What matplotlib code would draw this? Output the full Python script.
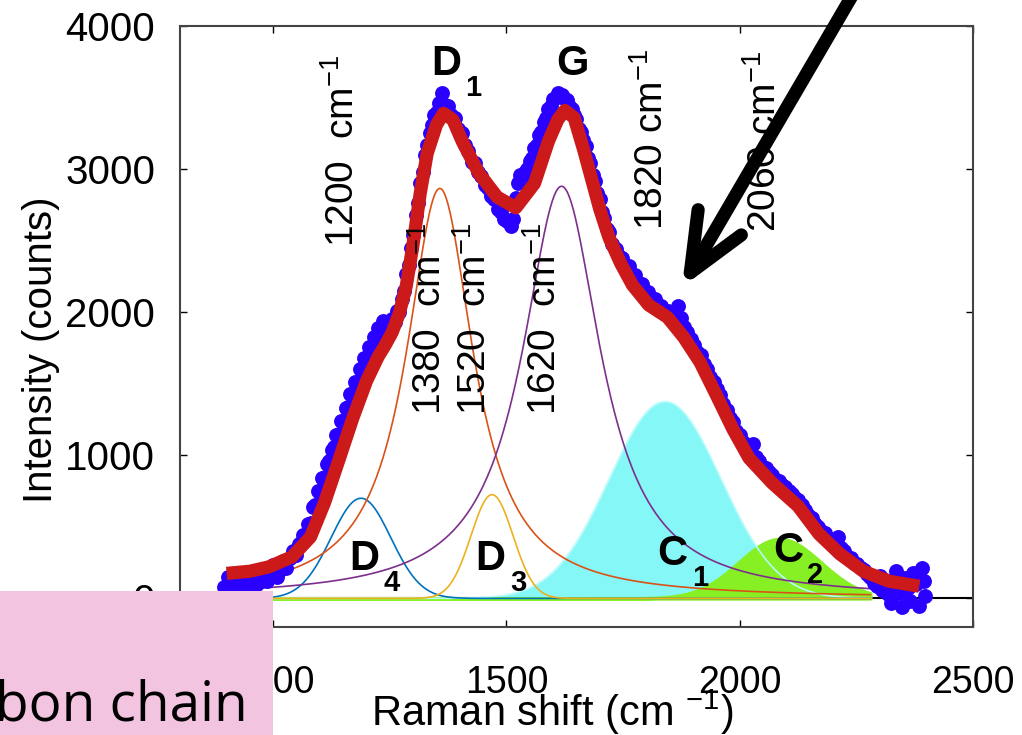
import numpy as np
import matplotlib.pyplot as plt

plt.rcParams['font.family'] = ['Liberation Sans', 'DejaVu Sans']
plt.rcParams['mathtext.fontset'] = 'custom'
plt.rcParams['mathtext.rm'] = 'Liberation Sans'
plt.rcParams['mathtext.it'] = 'Liberation Sans:italic'
plt.rcParams['mathtext.bf'] = 'Liberation Sans:bold'

meas_x = [895, 902, 909, 916, 923, 930, 937, 944, 951, 958, 965, 972, 979, 986, 993,
          1000, 1007, 1014, 1021, 1028, 1035, 1042, 1049, 1056, 1063, 1070, 1075, 1080,
          1085, 1090, 1095, 1100, 1105, 1110, 1115, 1120, 1125, 1130, 1135, 1140, 1145,
          1150, 1155, 1160, 1165, 1170, 1175, 1180, 1185, 1190, 1195, 1200, 1205, 1210,
          1215, 1220, 1225, 1230, 1235, 1240, 1245, 1250, 1255, 1260, 1265, 1270, 1275,
          1280, 1285, 1290, 1295, 1300, 1305, 1310, 1315, 1320, 1325, 1330, 1335, 1340,
          1345, 1350, 1355, 1362, 1368, 1375, 1382, 1390, 1397, 1404, 1411, 1418, 1425,
          1432, 1439, 1446, 1453, 1460, 1467, 1474, 1481, 1488, 1495, 1502, 1509, 1515,
          1520, 1525, 1530, 1535, 1540, 1545, 1550, 1555, 1560, 1565, 1570, 1575, 1580,
          1585, 1590, 1595, 1600, 1605, 1610, 1615, 1620, 1625, 1630, 1635, 1640, 1645,
          1650, 1655, 1660, 1665, 1670, 1675, 1680, 1685, 1690, 1695, 1700, 1705, 1710,
          1715, 1720, 1727, 1734, 1741, 1748, 1755, 1762, 1769, 1776, 1783, 1790, 1797,
          1804, 1811, 1818, 1825, 1832, 1839, 1846, 1853, 1860, 1867, 1874, 1881, 1888,
          1895, 1902, 1909, 1916, 1923, 1930, 1937, 1944, 1951, 1958, 1965, 1972, 1979,
          1986, 1993, 2000, 2007, 2014, 2021, 2028, 2035, 2042, 2049, 2056, 2063, 2070,
          2077, 2084, 2091, 2098, 2105, 2112, 2119, 2126, 2133, 2140, 2147, 2154, 2161,
          2168, 2175, 2182, 2189, 2196, 2203, 2210, 2217, 2224, 2231, 2238, 2245, 2252,
          2259, 2266, 2273, 2280, 2287, 2294, 2300, 2306, 2312, 2318, 2324, 2330, 2336,
          2342, 2348, 2354, 2360, 2366, 2372, 2378, 2384, 2390, 2395, 2398]
meas_y = [80, 150, 60, 120, 170, 90, 140, 60, 130, 180, 100, 150, 200, 120, 170,
          230, 150, 200, 260, 210, 280, 330, 300, 380, 440, 430, 520, 530,
          640, 650, 750, 740, 840, 850, 940, 960, 1040, 1060, 1140, 1150, 1240,
          1240, 1330, 1340, 1430, 1420, 1510, 1510, 1600, 1600, 1680, 1680, 1760, 1760,
          1830, 1820, 1890, 1860, 1940, 1840, 1900, 1860, 1950, 1930, 2010, 2000, 2090,
          2150, 2270, 2330, 2450, 2540, 2680, 2760, 2900, 2980, 3100, 3170, 3250, 3310,
          3380, 3400, 3460, 3530, 3450, 3440, 3380, 3360, 3280, 3250, 3170, 3130, 3050,
          3040, 2980, 2950, 2890, 2870, 2810, 2790, 2720, 2700, 2650, 2640, 2600, 2650,
          2800, 2900, 2960, 2930, 2980, 3000, 3060, 3080, 3150, 3170, 3240, 3260, 3330,
          3360, 3420, 3440, 3490, 3500, 3530, 3510, 3520, 3490, 3480, 3440, 3420, 3380,
          3350, 3280, 3260, 3200, 3160, 3080, 3040, 2960, 2920, 2830, 2790, 2700, 2660,
          2580, 2560, 2480, 2440, 2390, 2380, 2320, 2320, 2250, 2260, 2200, 2200, 2150,
          2140, 2090, 2090, 2050, 2040, 2010, 2010, 1970, 1990, 2040, 1960, 1900, 1860,
          1810, 1770, 1720, 1700, 1640, 1600, 1550, 1510, 1460, 1420, 1360, 1320, 1260,
          1230, 1170, 1140, 1090, 1060, 1030, 1080, 990, 960, 920, 910, 880, 860,
          830, 820, 790, 780, 750, 730, 700, 690, 650, 620, 580, 560, 520,
          500, 470, 460, 420, 410, 390, 430, 350, 330, 290, 280, 250, 240,
          210, 200, 170, 150, 110, 90, 160, 60, 130, 30, -30, 110, 190,
          40, -60, 140, 70, -20, 180, 100, -50, 210, 120, 20]

# total fit (red line)
fit_x = [900, 950, 990, 1040, 1080, 1110, 1140, 1170, 1200, 1225, 1240, 1255, 1270,
         1285, 1300, 1315, 1330, 1350, 1365, 1385, 1405, 1440, 1480, 1520, 1560, 1590,
         1610, 1625, 1645, 1665, 1685, 1700, 1720, 1745, 1770, 1805, 1845, 1880, 1915,
         1950, 1985, 2020, 2070, 2125, 2170, 2215, 2265, 2320, 2385]
fit_y = [175, 190, 220, 290, 430, 670, 960, 1255, 1520, 1690, 1770, 1860, 1990,
         2180, 2480, 2830, 3110, 3310, 3390, 3345, 3195, 2975, 2805, 2730, 2900, 3195,
         3345, 3410, 3360, 3140, 2900, 2720, 2520, 2340, 2190, 2050, 1965, 1825, 1650,
         1420, 1185, 980, 805, 645, 450, 310, 190, 120, 85]

# fitted bands: centre, height, width (sigma for gaussian, hwhm for lorentzian)
band_names = ['D4', 'D1', 'D3', 'G', 'C1', 'C2']
band_shape = ['gauss', 'lorentz', 'gauss', 'lorentz', 'gauss', 'gauss']
band_centre = [1188, 1357, 1469, 1618, 1840, 2086]
band_height = [700, 2865, 725, 2880, 1375, 415]
band_width = [64, 88, 45, 103, 120, 88]
band_color = ['#0072BD', '#D95319', '#EDB120', '#7E2F8E', '#86F7F7', '#86F025']

# text labels
pos_labels = ['1200  cm$^{-1}$', '1380  cm$^{-1}$', '1520  cm$^{-1}$',
              '1620  cm$^{-1}$', '1820 cm$^{-1}$', '2060 cm$^{-1}$']
pos_label_x = [1149, 1335, 1432, 1582, 1812, 2054]
pos_label_y = [2456, 1280, 1280, 1280, 2575, 2561]

peak_letters = ['D', 'G', 'D', 'D', 'C', 'C']
peak_subs = ['1', '', '4', '3', '1', '2']
peak_x = [1370, 1642, 1194, 1465, 1855, 2103]
peak_y = [3733, 3733, 274, 274, 309, 330]


def band(shape, c, h, w, x):
    if shape == 'gauss':
        return h * np.exp(-0.5 * ((x - c) / w) ** 2)
    return h / (1 + ((x - c) / w) ** 2)


fig = plt.figure(figsize=(10.22, 7.35), dpi=100)
ax = fig.add_axes([0.1761, 0.1469, 0.7759, 0.8177])

xx = np.linspace(895, 2280, 700)
curves = {}
for n, s, c, h, w in zip(band_names, band_shape, band_centre, band_height, band_width):
    curves[n] = band(s, c, h, w, xx)

ax.axhline(0, color='black', lw=1.5, zorder=1)
ax.fill_between(xx, 0, curves['C1'], color=band_color[4], lw=0, zorder=2)
ax.fill_between(xx, 0, curves['C2'], facecolor=band_color[5], edgecolor=band_color[5],
                lw=2.5, zorder=3)
ax.plot(xx, curves['C1'], color='#B8FBFB', lw=1.2, zorder=3.5)
for n, col in zip(band_names[:4], band_color[:4]):
    ax.plot(xx, curves[n], color=col, lw=1.2, zorder=4)

ax.scatter(meas_x, meas_y, s=115, color='#2A00FF', lw=0, zorder=5)
ax.plot(fit_x, fit_y, color='#CC1A1A', lw=9.5, solid_joinstyle='round',
        solid_capstyle='butt', zorder=6)

for s, x, y in zip(pos_labels, pos_label_x, pos_label_y):
    ax.text(x, y, s, rotation=90, ha='center', va='bottom', fontsize=28, zorder=7)

for l, sub, x, y in zip(peak_letters, peak_subs, peak_x, peak_y):
    ax.text(x, y, l, ha='center', va='center', fontsize=30, fontweight='bold', zorder=7)
    if sub:
        ax.annotate(sub, (x, y), xytext=(20, -17), textcoords='offset points',
                    ha='center', va='center', fontsize=21, fontweight='bold', zorder=7)

ax.set_xlim(800, 2500)
ax.set_ylim(-200, 4000)
ax.set_xticks([1000, 1500, 2000, 2500])
ax.set_yticks([0, 1000, 2000, 3000, 4000])
ax.tick_params(direction='in', length=5, width=1, top=True, right=True)
ax.tick_params(axis='x', labelsize=27, pad=27)
ax.tick_params(axis='y', labelsize=29, pad=18)
for sp in ax.spines.values():
    sp.set_color('#444444')
    sp.set_linewidth(1.5)

ax.set_xlabel('Raman shift (cm $^{-1}$)', fontsize=30)
ax.xaxis.set_label_coords(0.470, -0.100)
ax.set_ylabel('Intensity (counts)', fontsize=29)
ax.yaxis.set_label_coords(-0.151, 0.461)

# arrow pointing at the shoulder
ax.annotate('', xy=(1876, 2175), xytext=(2247, 4246), annotation_clip=False,
            arrowprops=dict(arrowstyle='->,head_length=4.2,head_width=1.8', lw=9.5,
                            color='black', capstyle='round', joinstyle='round',
                            shrinkA=0, shrinkB=0))

# pink caption box cut off at the lower left
fig.add_artist(plt.Rectangle((0, 0), 0.2671, 0.1959, transform=fig.transFigure,
                             facecolor='#F2C4E0', edgecolor='none', zorder=10))
fig.text(0.2427, 0.0204, 'bon chain', ha='right', va='baseline', fontsize=39.5,
         family='Open Sans', zorder=11)

fig.savefig('out.png', dpi=100)
